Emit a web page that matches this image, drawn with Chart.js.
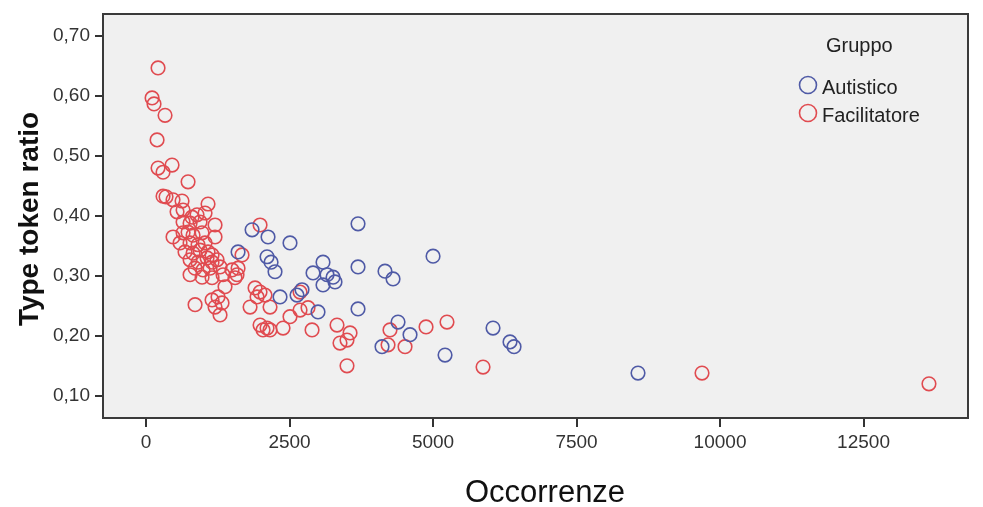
<!DOCTYPE html>
<html>
<head>
<meta charset="utf-8">
<script src="https://cdn.jsdelivr.net/npm/chart.js@4"></script>
<style>
  html, body { margin: 0; padding: 0; background: #fff; }
  #wrap { width: 983px; height: 507px; }
</style>
</head>
<body>
<div id="wrap"><canvas id="chart" width="983" height="507"></canvas></div>
<script>
const groups = ['Autistico', 'Facilitatore'];

const autisticoX = [1847, 2125, 2508, 1603, 3693, 2108, 2178, 2247, 3083, 2909,
  3153, 3258, 3083, 3292, 3693, 4163, 4303, 5000, 2334, 2630,
  2717, 3693, 2996, 4390, 4599, 4111, 5209, 6045, 6341, 6411, 8571];
const autisticoY = [0.377, 0.365, 0.355, 0.340, 0.387, 0.332, 0.323, 0.307, 0.323, 0.305,
  0.302, 0.298, 0.285, 0.290, 0.315, 0.308, 0.295, 0.333, 0.265, 0.268,
  0.277, 0.245, 0.240, 0.223, 0.202, 0.182, 0.168, 0.213, 0.190, 0.182, 0.138];

const facilitatoreX = [209, 105, 139, 331, 192, 209, 296, 453, 732, 296,
  348, 470, 627, 1080, 540, 645, 801, 888, 1028, 645,
  767, 941, 1202, 470, 645, 732, 819, 976, 1202, 592,
  767, 906, 1028, 679, 819, 941, 1080, 1150, 1672, 767,
  906, 1063, 1150, 1237, 854, 993, 1115, 1289, 767, 976,
  1150, 1341, 1498, 1603, 1585, 1376, 1550, 854, 1150, 1254,
  1324, 1202, 1289, 1986, 1899, 1986, 2073, 1934, 1812, 2160,
  2683, 2508, 2683, 2822, 1986, 2108, 2160, 2038, 2387, 2892,
  3327, 3554, 3379, 3501, 3501, 4216, 4250, 4512, 4878, 5243,
  5871, 9686, 13640];
const facilitatoreY = [0.647, 0.597, 0.587, 0.568, 0.527, 0.480, 0.473, 0.485, 0.457, 0.433,
  0.432, 0.427, 0.425, 0.420, 0.407, 0.410, 0.398, 0.402, 0.405, 0.390,
  0.388, 0.390, 0.385, 0.365, 0.372, 0.373, 0.368, 0.372, 0.365, 0.355,
  0.355, 0.352, 0.355, 0.340, 0.338, 0.343, 0.340, 0.335, 0.335, 0.327,
  0.323, 0.330, 0.323, 0.327, 0.313, 0.310, 0.313, 0.315, 0.302, 0.298,
  0.297, 0.302, 0.310, 0.313, 0.302, 0.282, 0.297, 0.252, 0.260, 0.265,
  0.255, 0.248, 0.235, 0.385, 0.280, 0.273, 0.268, 0.265, 0.248, 0.248,
  0.273, 0.232, 0.243, 0.247, 0.218, 0.213, 0.210, 0.210, 0.213, 0.210,
  0.218, 0.205, 0.188, 0.193, 0.150, 0.185, 0.210, 0.182, 0.215, 0.223,
  0.148, 0.138, 0.120];

const xTicks = [0, 2500, 5000, 7500, 10000, 12500];
const yTicks = [0.1, 0.2, 0.3, 0.4, 0.5, 0.6, 0.7];

const BLUE = '#4f5aa6';
const RED = '#e04b50';
const FONT = '"Liberation Sans", Arial, sans-serif';

function pairs(xs, ys) {
  return xs.map((x, i) => ({ x: x, y: ys[i] }));
}

// grey plot panel with a dark frame, plus axis titles and legend
const frame = {
  id: 'frame',
  beforeDatasetsDraw(chart) {
    const { ctx, chartArea: a } = chart;
    ctx.save();
    ctx.fillStyle = '#f0f0f0';
    ctx.fillRect(a.left, a.top, a.right - a.left, a.bottom - a.top);
    ctx.restore();
  },
  afterDraw(chart) {
    const { ctx, chartArea: a } = chart;
    ctx.save();
    ctx.strokeStyle = '#3a3a3a';
    ctx.lineWidth = 2;
    ctx.strokeRect(a.left, a.top, a.right - a.left, a.bottom - a.top);

    ctx.fillStyle = '#111';
    ctx.textAlign = 'center';
    ctx.textBaseline = 'middle';
    ctx.font = '31px ' + FONT;
    ctx.fillText('Occorrenze', 545, 493);

    ctx.translate(30, 219);
    ctx.rotate(-Math.PI / 2);
    ctx.font = 'bold 28px ' + FONT;
    ctx.fillText('Type token ratio', 0, 0);
    ctx.restore();

    ctx.save();
    ctx.fillStyle = '#222';
    ctx.textBaseline = 'middle';
    ctx.textAlign = 'left';
    ctx.font = '20px ' + FONT;
    ctx.fillText('Gruppo', 826, 46);
    const colors = [BLUE, RED];
    groups.forEach((g, i) => {
      const y = 88 + i * 28;
      ctx.beginPath();
      ctx.arc(808, y - 3, 8.5, 0, Math.PI * 2);
      ctx.strokeStyle = colors[i];
      ctx.lineWidth = 1.6;
      ctx.stroke();
      ctx.fillStyle = '#222';
      ctx.fillText(g, 822, y);
    });
    ctx.restore();
  }
};

const pointStyle = (color) => ({
  backgroundColor: 'rgba(0,0,0,0)',
  borderColor: color,
  borderWidth: 1.6,
  pointRadius: 6.8,
  pointHoverRadius: 6.8,
  pointStyle: 'circle'
});

new Chart(document.getElementById('chart'), {
  type: 'scatter',
  data: {
    datasets: [
      Object.assign({ label: groups[0], data: pairs(autisticoX, autisticoY) }, pointStyle(BLUE)),
      Object.assign({ label: groups[1], data: pairs(facilitatoreX, facilitatoreY) }, pointStyle(RED))
    ]
  },
  options: {
    responsive: false,
    animation: false,
    layout: { padding: { left: 0, right: 15, top: 14, bottom: 0 } },
    plugins: {
      legend: { display: false },
      tooltip: { enabled: false }
    },
    scales: {
      x: {
        type: 'linear',
        min: -750,
        max: 14320,
        afterFit: (s) => { s.height = 89; s.paddingLeft = 0; s.paddingRight = 0; },
        afterBuildTicks: (s) => { s.ticks = xTicks.map(v => ({ value: v })); },
        grid: { drawOnChartArea: false, drawTicks: true, tickLength: 9, color: '#333', lineWidth: 2 },
        border: { display: false },
        ticks: {
          padding: 4,
          color: '#333',
          font: { family: FONT, size: 19 },
          callback: (v) => String(v)
        }
      },
      y: {
        type: 'linear',
        min: 0.063,
        max: 0.737,
        afterFit: (s) => { s.width = 103; s.paddingTop = 0; s.paddingBottom = 0; },
        afterBuildTicks: (s) => { s.ticks = yTicks.map(v => ({ value: v })); },
        grid: { drawOnChartArea: false, drawTicks: true, tickLength: 8, color: '#333', lineWidth: 2 },
        border: { display: false },
        ticks: {
          padding: 5,
          color: '#333',
          font: { family: FONT, size: 19 },
          callback: (v) => v.toFixed(2).replace('.', ',')
        }
      }
    }
  },
  plugins: [frame]
});
</script>
</body>
</html>
